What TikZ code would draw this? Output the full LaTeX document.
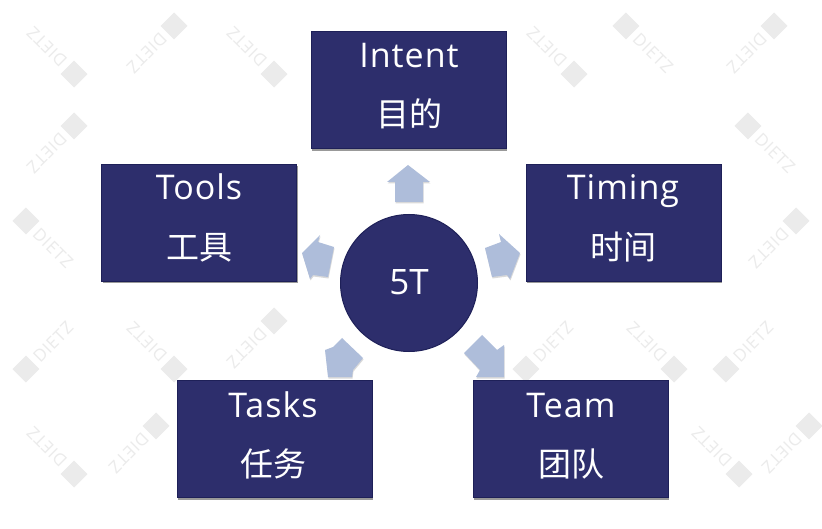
\documentclass[tikz,border=0pt]{standalone}
\usepackage{fontspec}
\setmainfont{Open Sans}
\newfontfamily\cjkfont{Noto Sans CJK SC}
\usetikzlibrary{shadows}
\definecolor{navy}{HTML}{2D2E6C}
\definecolor{navyedge}{HTML}{1E2058}
\definecolor{arrowblue}{HTML}{AEBDDA}
\definecolor{wm}{HTML}{EBEBEB}
\tikzset{
  boxst/.style={fill=navy,draw=navyedge,line width=.5pt,minimum width=195pt,minimum height=117pt,inner sep=0pt,
    drop shadow={shadow xshift=1pt,shadow yshift=-2.5pt,opacity=.4,fill=black}},
  en/.style={text=white,font=\fontsize{34}{38}\selectfont\addfontfeatures{LetterSpace=3},anchor=base,inner sep=0pt},
  cn/.style={text=white,font=\fontsize{33}{37}\selectfont\cjkfont,anchor=base,inner sep=0pt},
  hub/.style={circle,fill=navy,draw=navyedge,line width=1pt,minimum size=137pt,inner sep=0pt},
  blockarrow/.style={fill=arrowblue,draw=none,
    drop shadow={shadow xshift=.5pt,shadow yshift=-1.5pt,opacity=.15,fill=black}},
  wmtext/.style={text=wm,font=\fontsize{17}{17}\selectfont\addfontfeatures{LetterSpace=4},anchor=west,inner sep=0pt,transform shape},
  wmicon/.style={fill=wm,draw=none,minimum size=19pt,inner sep=0pt,transform shape},
}
\newcommand{\wmark}[3]{%
  \begin{scope}[shift={(#1,#2)},rotate=#3]
    \node[wmicon] at (-34pt,0pt) {};
    \node[wmtext] at (-20pt,0pt) {DIETZ};
  \end{scope}}
\begin{document}
\begin{tikzpicture}[x=1pt,y=-1pt]
\useasboundingbox (0,0) rectangle (822,529);
\fill[white] (0,0) rectangle (822,529);
% faint repeating mark, in the free areas
\foreach \xx/\yy/\ang in {50/50/135,150/50/225,250/50/135,550/50/135,650/50/-45,750/50/225,
    50/150/225,772/150/-45,
    50/245/-45,772/245/225,
    50/345/45,150/345/135,250/345/225,550/345/45,650/345/135,750/345/45,
    50/450/135,132/450/225,715/450/135,785/450/225}{
  \wmark{\xx}{\yy}{\ang}
}
% block arrows
\fill[blockarrow] (408,165) -- (430,182) -- (423,182) -- (423,202) -- (395,202) -- (395,182) -- (387,182) -- cycle;
\fill[blockarrow] (499,234) -- (520,253) -- (510,279) -- (507,275) -- (492,277) -- (485,248) -- (501,242) -- cycle;
\fill[blockarrow] (320,235) -- (302,253) -- (310,279) -- (313,275) -- (328,277) -- (334,247) -- (318,242) -- cycle;
\fill[blockarrow] (482,335) -- (497,350) -- (504,345) -- (504,377) -- (476,377) -- (480,370) -- (464,353) -- cycle;
\fill[blockarrow] (342,338) -- (363,358) -- (353,370) -- (352,377) -- (328,377) -- (325,350) -- (333,347) -- cycle;
% boxes
\node[boxst] (intent) at (408.5,90) {};
\node[boxst] (timing) at (623.5,222.5) {};
\node[boxst] (tools)  at (199,222.5) {};
\node[boxst] (tasks)  at (274.5,438.5) {};
\node[boxst] (team)   at (570.5,438.5) {};
\node[hub] (hub) at (409,283) {};
\node[text=white,font=\fontsize{35}{39}\selectfont,anchor=base,inner sep=0pt] (hubT) at (409,295) {5T};
% labels
\node[en] (intentE) at (409,68) {Intent};
\node[cn] (intentC) at (409,127) {目的};
\node[en] (timingE) at (623,200) {Timing};
\node[cn] (timingC) at (623,260) {时间};
\node[en] (toolsE) at (199,200) {Tools};
\node[cn] (toolsC) at (199,260) {工具};
\node[en] (tasksE) at (273,417) {Tasks};
\node[cn] (tasksC) at (273,476) {任务};
\node[en] (teamE) at (571,417) {Team};
\node[cn] (teamC) at (571,476) {团队};
\end{tikzpicture}
\end{document}
